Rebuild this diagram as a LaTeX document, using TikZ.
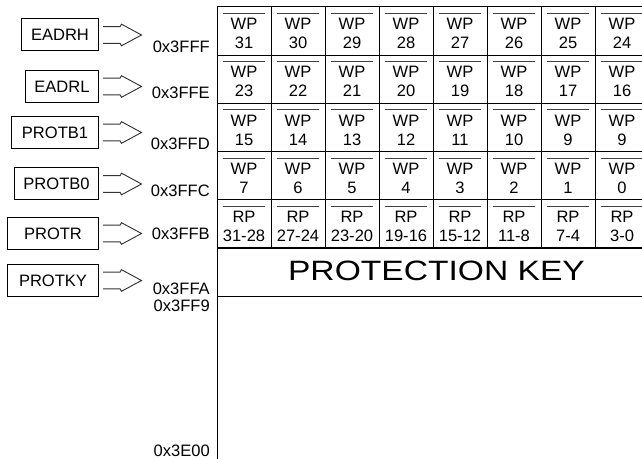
\documentclass[tikz,border=0pt]{standalone}
\usepackage{fontspec}
\setmainfont{Liberation Sans}
\usetikzlibrary{calc}

\begin{document}
\begin{tikzpicture}[x=0.75pt,y=-0.75pt,font=\fontsize{12.4}{14.25}\selectfont,
  regbox/.style={draw,line width=0.75pt,minimum height=24pt,inner xsep=0pt},
  addr/.style={anchor=east,inner sep=0pt},
  cell/.style={draw,line width=0.75pt,minimum width=40.5pt,minimum height=36.15pt,inner sep=0pt},
  celltext/.style={align=center,inner sep=0pt},
  bar/.style={line width=0.75pt,black!75},
  hollow/.style={line width=0.7pt,black!80,line join=miter}]
\clip (0,0) rectangle (642,459);
% registers and their addresses
\foreach \reg/\boxw/\y in {EADRH/57.75pt/35,EADRL/54.75pt/86.5,PROTB1/65.25pt/132.5,PROTB0/63pt/184,PROTR/68.25pt/233.5,PROTKY/68.25pt/280.5}{
\node[regbox,minimum width=\boxw,anchor=east] (\reg) at (99,\y) {\reg};
\draw[hollow] ($(\reg.east)+(4,-8.3)$) -- ++(17,0) -- ++(1.5,-2.5) -- ($(\reg.east)+(42.5,0)$)
  -- ($(\reg.east)+(22.5,10.8)$) -- ++(-1.5,-2.5) -- ++(-17,0);}
\foreach \adr/\y in {0x3FFF/47,0x3FFE/92.5,0x3FFD/144,0x3FFC/191,0x3FFB/234,0x3FFA/288.5,0x3FF9/306,0x3E00/451}{
\node[addr] (a\adr) at (210,\y) {\adr};}
% protection bits
\foreach \r/\lab/\nums in {0/WP/{31,30,29,28,27,26,25,24},1/WP/{23,22,21,20,19,18,17,16},2/WP/{15,14,13,12,11,10,9,9},3/WP/{7,6,5,4,3,2,1,0},4/RP/{31-28,27-24,23-20,19-16,15-12,11-8,7-4,3-0}}{
\foreach \n [count=\c from 0] in \nums {
\node[cell] (c\r\c) at (244+54*\c,31.1+48.2*\r) {};
\draw[bar] ($(c\r\c.north west)+(6,7)$) -- ($(c\r\c.north east)+(-7,7)$);
\node[celltext] (t\r\c) at ($(c\r\c.north)+(0,27)$) {\lab\\\n};}}
\node[draw,line width=0.75pt,minimum width=324pt,minimum height=36.15pt,anchor=north west] (key) at (217,248) {};
\node[inner sep=0pt] (keytxt) at (436.5,271) {\fontsize{21}{24}\selectfont\scalebox{1.2}[1]{PROTECTION KEY}};
\draw[line width=0.75pt] (key.south west) -- (217,459);
\end{tikzpicture}
\end{document}
